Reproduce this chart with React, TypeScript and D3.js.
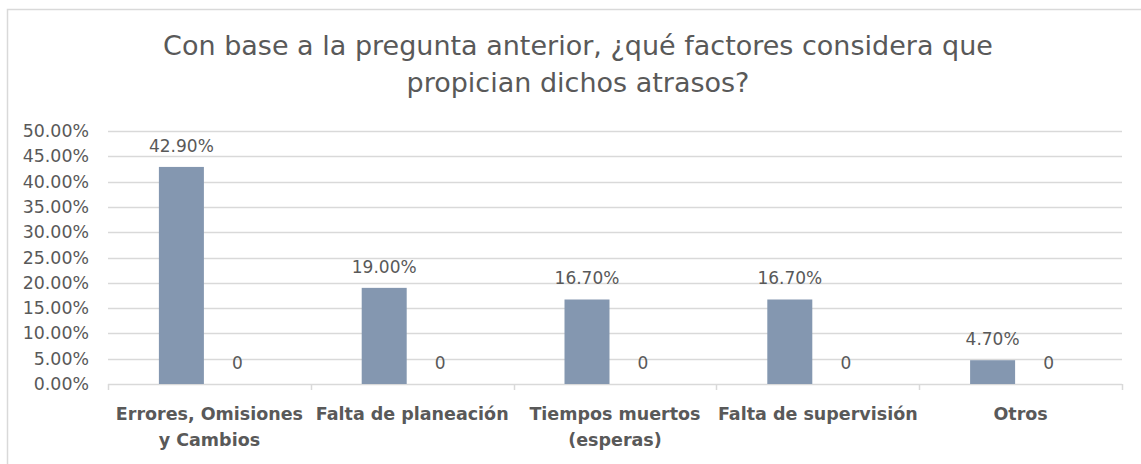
import React, { useEffect, useRef } from "react";
import * as d3 from "d3";

const titleLines = [
  "Con base a la pregunta anterior, ¿qué factores considera que",
  "propician dichos atrasos?",
];
const categories = [
  ["Errores, Omisiones", "y Cambios"],
  ["Falta de planeación"],
  ["Tiempos muertos", "(esperas)"],
  ["Falta de supervisión"],
  ["Otros"],
];
const seriesA = [42.9, 19.0, 16.7, 16.7, 4.7];
const seriesB = [0, 0, 0, 0, 0];
const yTicks = [0, 5, 10, 15, 20, 25, 30, 35, 40, 45, 50];

const W = 1141;
const H = 464;
const FONT = "'DejaVu Sans', 'Open Sans', sans-serif";
const TEXT = "#595959";
const GRID = "#D9D9D9";
const BAR = "#8497B0";

export default function App() {
  const ref = useRef<SVGSVGElement>(null);

  useEffect(() => {
    const svg = d3.select(ref.current);
    svg.selectAll("*").remove();

    const left = 108;
    const right = 1122;
    const top = 131;
    const bottom = 384;

    const x = d3
      .scaleBand<number>()
      .domain(categories.map((_, i) => i))
      .range([left, right]);
    const y = d3.scaleLinear().domain([0, 50]).range([bottom, top]);

    const barW = 45;
    const offset = 28;

    // chart frame
    svg
      .append("rect")
      .attr("x", 7.5)
      .attr("y", 9.5)
      .attr("width", W + 20)
      .attr("height", H + 20)
      .attr("fill", "#fff")
      .attr("stroke", GRID)
      .attr("stroke-width", 1.5);

    // title
    svg
      .append("text")
      .attr("text-anchor", "middle")
      .attr("font-family", FONT)
      .attr("font-size", 27)
      .attr("fill", TEXT)
      .selectAll("tspan")
      .data(titleLines)
      .join("tspan")
      .attr("x", 578)
      .attr("y", (_, i) => 55 + i * 37)
      .text((d) => d);

    // gridlines
    svg
      .append("g")
      .selectAll("line")
      .data(yTicks.filter((t) => t > 0))
      .join("line")
      .attr("x1", left)
      .attr("x2", right)
      .attr("y1", (d) => Math.round(y(d)) + 0.5)
      .attr("y2", (d) => Math.round(y(d)) + 0.5)
      .attr("stroke", GRID)
      .attr("stroke-width", 1.3);

    // y tick labels
    svg
      .append("g")
      .selectAll("text")
      .data(yTicks)
      .join("text")
      .attr("x", 89)
      .attr("y", (d) => y(d))
      .attr("dy", "0.35em")
      .attr("text-anchor", "end")
      .attr("font-family", FONT)
      .attr("font-size", 17.4)
      .attr("fill", TEXT)
      .text((d) => d.toFixed(2) + "%");

    // x axis line and category ticks
    svg
      .append("line")
      .attr("x1", left)
      .attr("x2", right)
      .attr("y1", bottom + 0.5)
      .attr("y2", bottom + 0.5)
      .attr("stroke", GRID)
      .attr("stroke-width", 1.5);
    const bounds = categories.map((_, i) => x(i) as number).concat([right]);
    svg
      .append("g")
      .selectAll("line")
      .data(bounds)
      .join("line")
      .attr("x1", (d) => Math.round(d) + 0.5)
      .attr("x2", (d) => Math.round(d) + 0.5)
      .attr("y1", bottom)
      .attr("y2", bottom + 6)
      .attr("stroke", GRID)
      .attr("stroke-width", 1.5);

    const center = (i: number) => (x(i) as number) + x.bandwidth() / 2;

    // bars
    svg
      .append("g")
      .selectAll("rect")
      .data(seriesA)
      .join("rect")
      .attr("x", (_, i) => center(i) - offset - barW / 2)
      .attr("y", (d) => y(d))
      .attr("width", barW)
      .attr("height", (d) => bottom - y(d))
      .attr("fill", BAR);
    svg
      .append("g")
      .selectAll("rect")
      .data(seriesB)
      .join("rect")
      .attr("x", (_, i) => center(i) + offset - barW / 2)
      .attr("y", (d) => y(d))
      .attr("width", barW)
      .attr("height", (d) => bottom - y(d))
      .attr("fill", "#A5A5A5");

    // value labels
    const labelGroup = svg
      .append("g")
      .attr("font-family", FONT)
      .attr("font-size", 17)
      .attr("fill", TEXT)
      .attr("text-anchor", "middle");
    labelGroup
      .selectAll("text.a")
      .data(seriesA)
      .join("text")
      .attr("class", "a")
      .attr("x", (_, i) => center(i) - offset)
      .attr("y", (d) => y(d) - 21)
      .attr("dy", "0.35em")
      .text((d) => d.toFixed(2) + "%");
    labelGroup
      .selectAll("text.b")
      .data(seriesB)
      .join("text")
      .attr("class", "b")
      .attr("x", (_, i) => center(i) + offset)
      .attr("y", (d) => y(d) - 21)
      .attr("dy", "0.35em")
      .text((d) => String(d));

    // category labels
    svg
      .append("g")
      .selectAll("text")
      .data(categories)
      .join("text")
      .attr("text-anchor", "middle")
      .attr("font-family", FONT)
      .attr("font-size", 17.5)
      .attr("font-weight", "bold")
      .attr("fill", TEXT)
      .each(function (lines, i) {
        d3.select(this)
          .selectAll("tspan")
          .data(lines)
          .join("tspan")
          .attr("x", center(i))
          .attr("y", (_, j) => 420 + j * 26)
          .text((d) => d);
      });
  }, []);

  return (
    <div style={{ position: "absolute", left: 0, top: 0 }}>
      <svg ref={ref} width={W} height={H} style={{ display: "block" }} />
    </div>
  );
}
